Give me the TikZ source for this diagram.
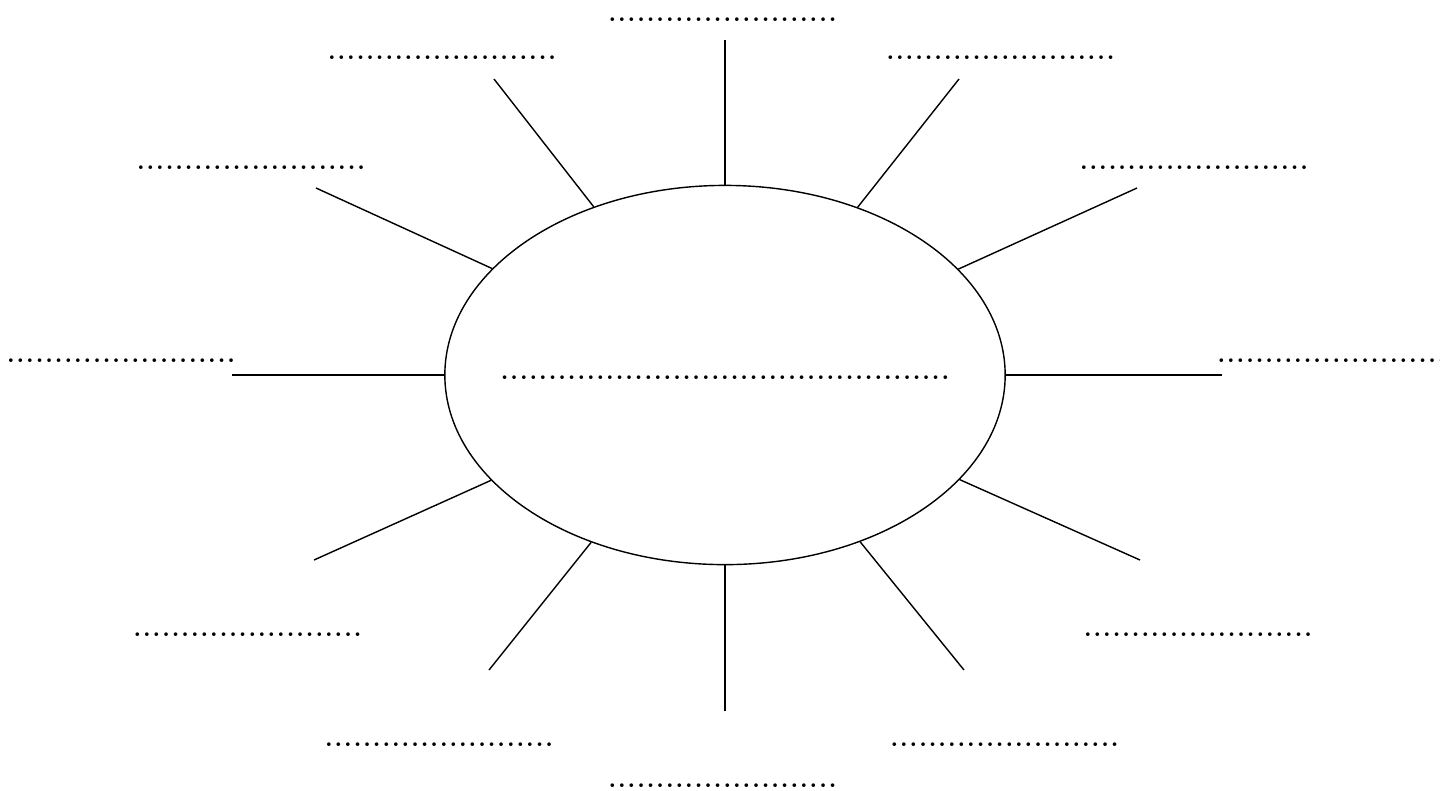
\documentclass[tikz,border=0pt]{standalone}
\usepackage{amsmath,amssymb}
\usepackage{tikz}
\usetikzlibrary{shapes.geometric}
\newcommand\blankline[1]{\foreach\i in {1,...,#1}{.}}

\begin{document}
\begin{tikzpicture}[x=0.01cm, y=-0.01cm, every node/.style={font=\fontsize{9.8}{12}\selectfont}, blank/.style={inner sep=0pt, anchor=base}]
\useasboundingbox (0,0) rectangle (1440,790);
\node[draw, ellipse, minimum width=5.6cm, minimum height=3.79cm, inner sep=0pt] (C) at (725,375) {};
\node[blank] (c) at (725,379) {\blankline{47}};
\node[blank] (N) at (722.5,21) {\blankline{24}};
\node[blank] (NW) at (442,59) {\blankline{24}};
\node[blank] (NE) at (1000.5,59) {\blankline{24}};
\node[blank] (WN) at (251,169) {\blankline{24}};
\node[blank] (EN) at (1194,169) {\blankline{24}};
\node[blank] (W) at (121,362) {\blankline{24}};
\node[blank] (E) at (1331.5,362) {\blankline{24}};
\node[blank] (WS) at (247.5,636) {\blankline{24}};
\node[blank] (ES) at (1198,636) {\blankline{24}};
\node[blank] (SW) at (439,746) {\blankline{24}};
\node[blank] (SE) at (1004.5,746) {\blankline{24}};
\node[blank] (S) at (722.5,787) {\blankline{24}};
\coordinate (n) at (725,40);
\coordinate (nw) at (494,79);
\coordinate (ne) at (959,79);
\coordinate (wn) at (316,188);
\coordinate (en) at (1137,188);
\coordinate (w) at (232,375);
\coordinate (e) at (1222,375);
\coordinate (ws) at (314,560);
\coordinate (es) at (1140,560);
\coordinate (sw) at (489,670);
\coordinate (se) at (964,670);
\coordinate (s) at (725,711);
\draw (n) -- (C);
\draw (nw) -- (C);
\draw (ne) -- (C);
\draw (wn) -- (C);
\draw (en) -- (C);
\draw (w) -- (C);
\draw (e) -- (C);
\draw (ws) -- (C);
\draw (es) -- (C);
\draw (sw) -- (C);
\draw (se) -- (C);
\draw (s) -- (C);
\end{tikzpicture}
\end{document}
